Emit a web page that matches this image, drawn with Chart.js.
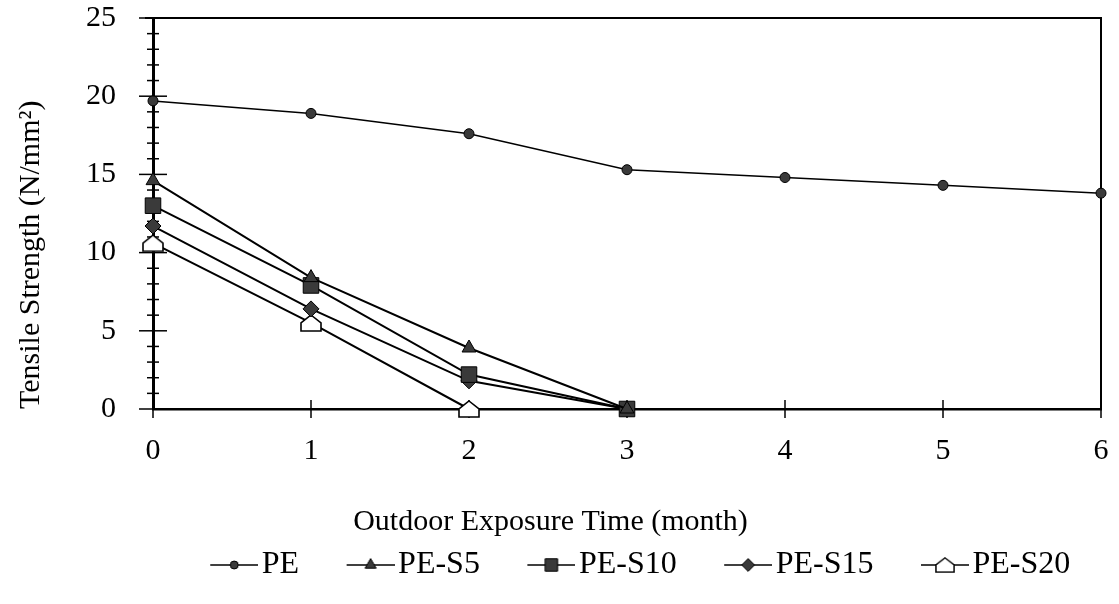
<!DOCTYPE html>
<html>
<head>
<meta charset="utf-8">
<title>Tensile Strength vs Outdoor Exposure</title>
<script src="https://cdn.jsdelivr.net/npm/chart.js@4.4.0/dist/chart.umd.min.js"></script>
<style>
  html, body { margin: 0; padding: 0; background: #fff; }
</style>
</head>
<body>
<canvas id="strengthChart" width="1119" height="604"></canvas>
<script>
var months = [0, 1, 2, 3, 4, 5, 6];
var seriesNames = ["PE", "PE-S5", "PE-S10", "PE-S15", "PE-S20"];
var pe    = [19.7, 18.9, 17.6, 15.3, 14.8, 14.3, 13.8];
var peS5  = [14.6, 8.4, 3.9, 0];
var peS10 = [13.0, 7.9, 2.2, 0];
var peS15 = [11.7, 6.4, 1.8, 0];
var peS20 = [10.6, 5.5, 0];

var serif = "'Liberation Serif', 'Times New Roman', serif";
var markFill = "#3a3a3a";
var clear = "rgba(0,0,0,0)";

// open pentagon ("house") marker used by PE-S20
function houseMarker(w, h) {
  var c = document.createElement("canvas");
  c.width = w; c.height = h;
  var g = c.getContext("2d");
  g.lineWidth = 1.6;
  g.strokeStyle = "#000";
  g.fillStyle = "#fff";
  g.beginPath();
  g.moveTo(w / 2, 1);
  g.lineTo(w - 1, h * 0.5);
  g.lineTo(w - 1, h - 1);
  g.lineTo(1, h - 1);
  g.lineTo(1, h * 0.5);
  g.closePath();
  g.fill();
  g.stroke();
  return c;
}
var house = houseMarker(22, 18);

var markers = [
  { pointStyle: "circle", radius: 5 },
  { pointStyle: "triangle", radius: 8 },
  { pointStyle: "rect", radius: 11 },
  { pointStyle: "rectRot", radius: 8 },
  { pointStyle: house, radius: 9 }
];

// legend icon: short line with the marker in the middle; the left part stays blank as spacing
function legendIcon(m) {
  var c = document.createElement("canvas");
  c.width = 87; c.height = 24;
  var g = c.getContext("2d");
  g.strokeStyle = "#000";
  g.lineWidth = 1.6;
  g.beginPath();
  g.moveTo(39, 12); g.lineTo(87, 12);
  g.stroke();
  if (typeof m.pointStyle === "string") {
    g.fillStyle = markFill;
    g.lineWidth = 1;
    Chart.helpers.drawPoint(g, { pointStyle: m.pointStyle, radius: m.radius * 0.8, borderWidth: 1, rotation: 0 }, 63, 12);
  } else {
    g.drawImage(m.pointStyle, 63 - 10, 12 - 8, 20, 16);
  }
  return c;
}

var allValues = [pe, peS5, peS10, peS15, peS20];
var datasets = [];
for (var i = 0; i < seriesNames.length; i++) {
  datasets.push({
    label: seriesNames[i],
    data: allValues[i],
    borderColor: "#000",
    borderWidth: i === 0 ? 1.5 : 2,
    backgroundColor: markFill,
    pointStyle: markers[i].pointStyle,
    pointRadius: markers[i].radius,
    pointBorderColor: "#000",
    pointBorderWidth: 1,
    pointBackgroundColor: i === 4 ? "#fff" : markFill,
    tension: 0,
    clip: false
  });
}

// frame on top/right, tick marks crossing both axes
var axisMarks = {
  id: "axisMarks",
  beforeDatasetsDraw: function(chart) {
    var ctx = chart.ctx, a = chart.chartArea;
    var xs = chart.scales.x, ys = chart.scales.y;
    ctx.save();
    ctx.strokeStyle = "#000";
    ctx.lineWidth = 2;
    ctx.beginPath();
    ctx.moveTo(a.left - 8, a.top);
    ctx.lineTo(a.right, a.top);
    ctx.lineTo(a.right, a.bottom);
    ctx.stroke();
    ctx.lineWidth = 1.5;
    ys.ticks.forEach(function(t) {
      var py = ys.getPixelForValue(t.value);
      var len = t.value % 5 === 0 ? 14 : 6;
      ctx.beginPath();
      ctx.moveTo(a.left - len, py);
      ctx.lineTo(a.left + len, py);
      ctx.stroke();
    });
    xs.ticks.forEach(function(t, idx) {
      var px = xs.getPixelForTick(idx);
      ctx.beginPath();
      ctx.moveTo(px, a.bottom - 9);
      ctx.lineTo(px, a.bottom + 9);
      ctx.stroke();
    });
    ctx.restore();
  }
};

var strengthChart = new Chart(document.getElementById("strengthChart").getContext("2d"), {
  type: "line",
  data: { labels: months, datasets: datasets },
  plugins: [axisMarks],
  options: {
    responsive: false,
    animation: false,
    layout: { padding: { top: 18, right: 18, bottom: 13, left: 0 } },
    plugins: {
      tooltip: { enabled: false },
      title: {
        display: true,
        position: "bottom",
        weight: 500,
        text: "Outdoor Exposure Time (month)",
        color: "#000",
        font: { family: serif, size: 30, weight: "normal", lineHeight: 1.0 },
        padding: { top: 18, bottom: -9 }
      },
      legend: {
        position: "bottom",
        fullSize: false,
        labels: {
          color: "#000",
          font: { family: serif, size: 32, lineHeight: 1.0 },
          usePointStyle: true,
          pointStyleWidth: 62,
          padding: 21,
          generateLabels: function(chart) {
            return chart.data.datasets.map(function(ds, idx) {
              return {
                text: ds.label,
                pointStyle: legendIcon(markers[idx]),
                datasetIndex: idx,
                fontColor: "#000",
                lineWidth: 0,
                strokeStyle: clear,
                fillStyle: clear,
                hidden: false
              };
            });
          }
        }
      }
    },
    scales: {
      x: {
        offset: false,
        afterFit: function(scale) { scale.height = 80; },
        grid: { drawOnChartArea: false, drawTicks: true, tickLength: 27, tickColor: clear },
        border: { display: true, color: "#000", width: 2.5 },
        ticks: {
          color: "#000",
          padding: 0,
          font: { family: serif, size: 30, lineHeight: 1.0 }
        }
      },
      y: {
        min: 0,
        max: 25,
        afterFit: function(scale) { scale.width = 153; },
        grid: { drawOnChartArea: false, drawTicks: true, tickLength: 37, tickColor: clear },
        border: { display: true, color: "#000", width: 3 },
        title: {
          display: true,
          align: "start",
          text: "Tensile Strength (N/mm²)",
          color: "#000",
          font: { family: serif, size: 30, lineHeight: 1.0 },
          padding: { top: 16, bottom: 0 }
        },
        ticks: {
          stepSize: 1,
          autoSkip: false,
          color: "#000",
          padding: 0,
          font: { family: serif, size: 30, lineHeight: 1.0 },
          callback: function(v) { return v % 5 === 0 ? v : ""; }
        }
      }
    }
  }
});
</script>
</body>
</html>
